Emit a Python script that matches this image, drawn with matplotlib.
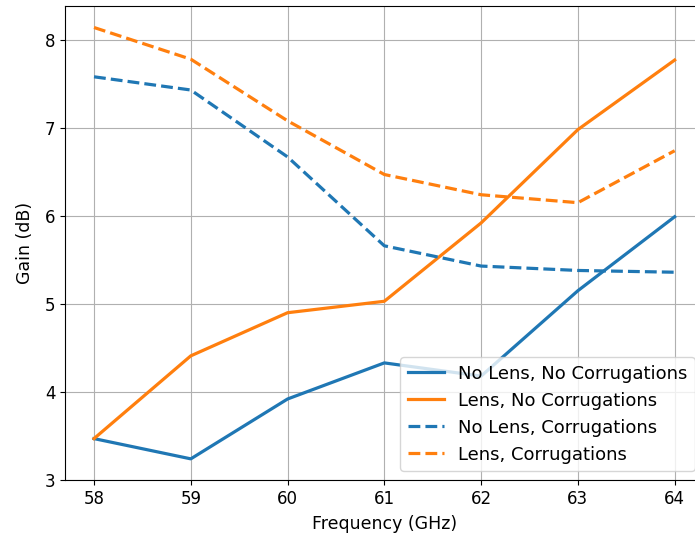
import matplotlib
matplotlib.use("Agg")
import matplotlib.pyplot as plt

# Measured gain for each antenna configuration
freq = [58, 59, 60, 61, 62, 63, 64]
gain_nolens_nocorr = [3.47, 3.24, 3.92, 4.33, 4.18, 5.15, 5.99]
gain_lens_nocorr = [3.47, 4.41, 4.90, 5.03, 5.92, 6.98, 7.77]
gain_nolens_corr = [7.58, 7.43, 6.67, 5.66, 5.43, 5.38, 5.36]
gain_lens_corr = [8.14, 7.78, 7.08, 6.47, 6.24, 6.15, 6.74]

fig = plt.figure(figsize=(6.95, 5.39), dpi=100)
ax = fig.add_axes([0.0935, 0.1095, 0.919, 0.8795])

ax.plot(freq, gain_nolens_nocorr, color='C0', lw=2.3, label='No Lens, No Corrugations')
ax.plot(freq, gain_lens_nocorr, color='C1', lw=2.3, label='Lens, No Corrugations')
ax.plot(freq, gain_nolens_corr, color='C0', lw=2.3, ls='--', label='No Lens, Corrugations')
ax.plot(freq, gain_lens_corr, color='C1', lw=2.3, ls='--', label='Lens, Corrugations')

ax.set_ylim(bottom=3)
ax.grid(True)
ax.tick_params(labelsize=12)
ax.set_xlabel('Frequency (GHz)', fontsize=12.5, labelpad=5)
ax.set_ylabel('Gain (dB)', fontsize=12.5, labelpad=8)
ax.legend(loc='lower right', fontsize=13)

fig.savefig('out.png', dpi=100)
